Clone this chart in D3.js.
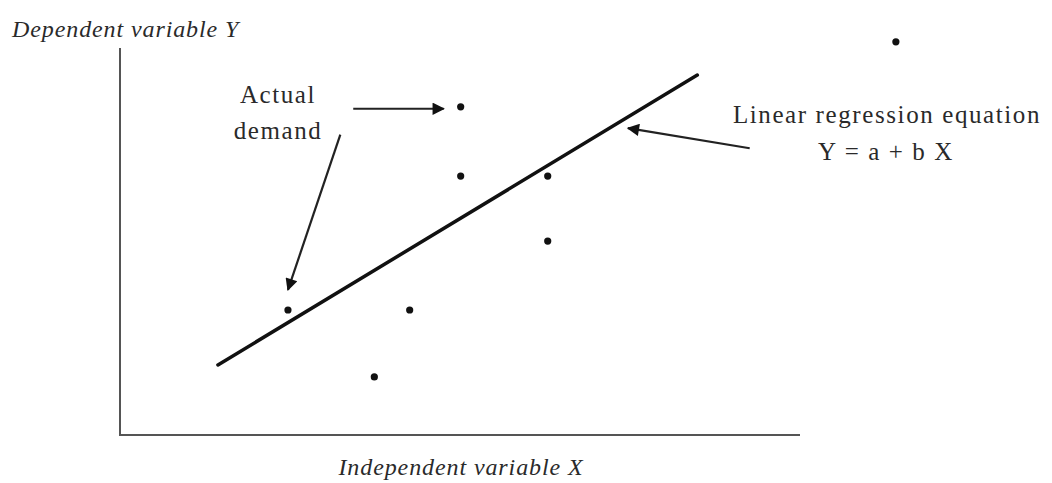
<!DOCTYPE html>
<html>
<head>
<meta charset="utf-8">
<script src="https://cdn.jsdelivr.net/npm/d3@7"></script>
<style>
  body { margin: 0; background: #fff; }
  text { font-family: "Liberation Serif", "DejaVu Serif", serif; fill: #2a2a2a; }
  .ital { font-style: italic; font-size: 24px; letter-spacing: 0.9px; }
  .note { font-size: 25px; letter-spacing: 1.6px; }
</style>
</head>
<body>
<div id="chart"></div>
<script>
// observations (x, y) in chart units
let pointsX = [11.41, 5.01, 5.01, 6.29, 6.29, 2.47, 4.26, 3.74];
let pointsY = [10.16, 8.48, 6.69, 6.69, 5.01, 3.23, 3.23, 1.50];

// regression line endpoints
let lineX = [1.44, 8.49];
let lineY = [1.81, 9.30];

// annotation arrows: [fromX, fromY, toX, toY]
let arrows = [
  [3.43, 8.43, 4.76, 8.43],
  [3.24, 7.76, 2.47, 3.75],
  [9.26, 7.41, 7.47, 7.93]
];

// text labels: [text, x, y, anchor, class]
let labels = [
  ["Dependent variable Y", 12, 37, "start", "ital"],
  ["Independent variable X", 461, 475, "middle", "ital"],
  ["Actual", 278, 103, "middle", "note"],
  ["demand", 278, 139, "middle", "note"],
  ["Linear regression equation", 887, 123, "middle", "note"],
  ["Y = a + b X", 886, 160, "middle", "note"]
];

let width = 1052, height = 483;

let svg = d3.select("#chart").append("svg")
  .attr("width", width)
  .attr("height", height);

let x = d3.scaleLinear().domain([0, 10]).range([120, 800]);
let y = d3.scaleLinear().domain([0, 10]).range([435, 48]);

svg.append("defs").append("marker")
  .attr("id", "head")
  .attr("viewBox", "0 0 10 10")
  .attr("refX", 9).attr("refY", 5)
  .attr("markerWidth", 6.5).attr("markerHeight", 5.6)
  .attr("markerUnits", "strokeWidth")
  .attr("orient", "auto")
  .append("path")
  .attr("d", "M0,0 L10,5 L0,10 Z")
  .attr("fill", "#111");

// axes as plain lines, no ticks
svg.append("path")
  .attr("d", `M${x(0)},${y(10)} L${x(0)},${y(0)} L${x(10)},${y(0)}`)
  .attr("fill", "none")
  .attr("stroke", "#555")
  .attr("stroke-width", 2);

svg.append("line")
  .attr("x1", x(lineX[0])).attr("y1", y(lineY[0]))
  .attr("x2", x(lineX[1])).attr("y2", y(lineY[1]))
  .attr("stroke", "#111")
  .attr("stroke-width", 3.5)
  .attr("stroke-linecap", "round");

svg.selectAll("circle.obs")
  .data(pointsX)
  .join("circle")
  .attr("class", "obs")
  .attr("cx", d => x(d))
  .attr("cy", (d, i) => y(pointsY[i]))
  .attr("r", 3.6)
  .attr("fill", "#111");

svg.selectAll("line.arrow")
  .data(arrows)
  .join("line")
  .attr("class", "arrow")
  .attr("x1", d => x(d[0])).attr("y1", d => y(d[1]))
  .attr("x2", d => x(d[2])).attr("y2", d => y(d[3]))
  .attr("stroke", "#222")
  .attr("stroke-width", 2.2)
  .attr("marker-end", "url(#head)");

svg.selectAll("text.lbl")
  .data(labels)
  .join("text")
  .attr("class", d => "lbl " + d[4])
  .attr("x", d => d[1])
  .attr("y", d => d[2])
  .attr("text-anchor", d => d[3])
  .text(d => d[0]);
</script>
</body>
</html>
